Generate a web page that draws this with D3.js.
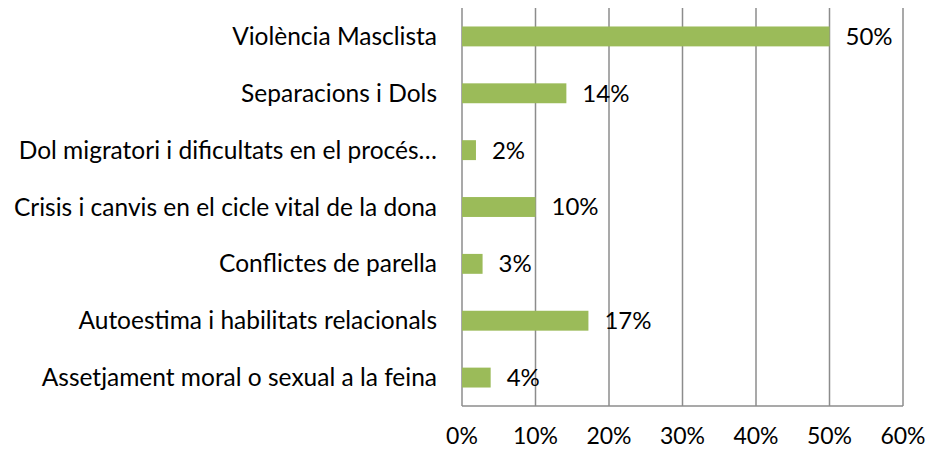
<!DOCTYPE html>
<html>
<head>
<meta charset="utf-8">
<script src="https://cdn.jsdelivr.net/npm/d3@7"></script>
<style>
  body { margin: 0; background: #fff; }
  svg text { font-family: Lato, "Open Sans", sans-serif; fill: #000; }
</style>
</head>
<body>
<div id="chart"></div>
<script>
// categories top to bottom, values in percent
const categories = [
  'Violència Masclista',
  'Separacions i Dols',
  'Dol migratori i dificultats en el procés…',
  'Crisis i canvis en el cicle vital de la dona',
  'Conflictes de parella',
  'Autoestima i habilitats relacionals',
  'Assetjament moral o sexual a la feina'
];
const values = [50, 14.2, 1.9, 10, 2.8, 17.2, 3.9];
const valueLabels = ['50%', '14%', '2%', '10%', '3%', '17%', '4%'];
const ticks = [0, 10, 20, 30, 40, 50, 60];

const width = 928, height = 450;
const margin = { top: 8, right: 25, bottom: 44, left: 462 };
const fontSize = '24px';

const svg = d3.select('#chart').append('svg')
  .attr('width', width)
  .attr('height', height);

const x = d3.scaleLinear().domain([0, 60]).range([margin.left, width - margin.right]);
const y = d3.scaleBand().domain(categories)
  .range([margin.top, height - margin.bottom])
  .paddingInner(0.65).paddingOuter(0.325);

// vertical gridlines
svg.append('g')
  .selectAll('line')
  .data(ticks)
  .join('line')
  .attr('x1', d => x(d)).attr('x2', d => x(d))
  .attr('y1', margin.top).attr('y2', height - margin.bottom)
  .attr('stroke', '#8c8c8c')
  .attr('stroke-width', 1.5);

// bottom axis line
svg.append('line')
  .attr('x1', x(0)).attr('x2', x(60))
  .attr('y1', height - margin.bottom).attr('y2', height - margin.bottom)
  .attr('stroke', '#8c8c8c')
  .attr('stroke-width', 1.5);

// x tick labels (kept a little smaller so they fit above the bottom edge)
svg.append('g')
  .selectAll('text')
  .data(ticks)
  .join('text')
  .attr('x', d => x(d))
  .attr('y', 444)
  .attr('text-anchor', 'middle')
  .style('font-size', '23px')
  .text(d => d + '%');

// bars
svg.append('g')
  .selectAll('rect')
  .data(values)
  .join('rect')
  .attr('x', x(0))
  .attr('y', (d, i) => y(categories[i]))
  .attr('width', d => x(d) - x(0))
  .attr('height', y.bandwidth())
  .attr('fill', '#9bbb59');

// value labels
svg.append('g')
  .selectAll('text')
  .data(values)
  .join('text')
  .attr('x', d => x(d) + 16)
  .attr('y', (d, i) => y(categories[i]) + y.bandwidth() / 2)
  .attr('dy', '0.35em')
  .style('font-size', fontSize)
  .text((d, i) => valueLabels[i]);

// category labels
svg.append('g')
  .selectAll('text')
  .data(categories)
  .join('text')
  .attr('x', 437)
  .attr('y', d => y(d) + y.bandwidth() / 2)
  .attr('dy', '0.35em')
  .attr('text-anchor', 'end')
  .style('font-size', '24.5px')
  .text(d => d);
</script>
</body>
</html>
